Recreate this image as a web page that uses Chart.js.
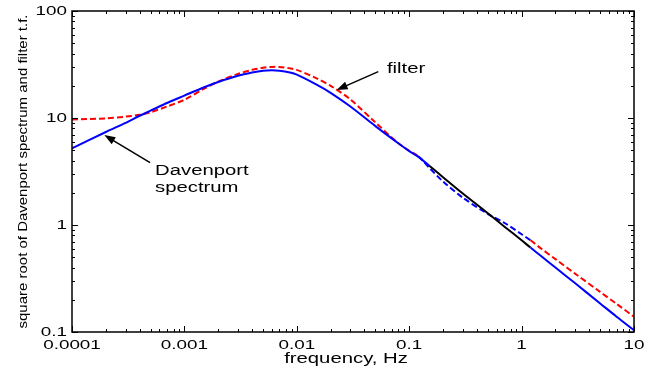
<!DOCTYPE html>
<html>
<head>
<meta charset="utf-8">
<script src="https://cdn.jsdelivr.net/npm/chart.js@4.4.1/dist/chart.umd.min.js"></script>
<style>
  html, body { margin: 0; padding: 0; background: #fff; }
  #wrap { width: 662px; height: 372px; }
</style>
</head>
<body>
<div id="wrap"><canvas id="psd" width="662" height="372"></canvas></div>
<script>
// frequencies (Hz)
const freq = [0.0001, 0.0002, 0.0003, 0.0004, 0.0005, 0.0007, 0.001, 0.0015, 0.002, 0.003,
  0.004, 0.005, 0.006, 0.007, 0.0087, 0.01, 0.015, 0.02, 0.03, 0.05,
  0.08, 0.1, 0.12, 0.15, 0.2, 0.3, 0.5, 0.7, 1, 1.2,
  1.5, 2, 3, 5, 7, 10];

// square root of Davenport spectrum
const davenport = [5.2, 7.4, 9.0, 10.5, 11.7, 13.8, 16.2, 19.4, 21.7, 24.8,
  26.6, 27.7, 28.0, 27.7, 26.6, 25.4, 20.5, 17.2, 12.8, 8.4,
  5.8, 4.9, 4.35, 3.6, 2.8, 1.97, 1.29, 0.97, 0.72, 0.615,
  0.51, 0.40, 0.285, 0.185, 0.139, 0.104];

// filter transfer function
const filterTf = [9.7, 9.9, 10.3, 10.7, 11.3, 12.8, 14.8, 18.8, 21.9, 25.8,
  28.2, 29.5, 30.0, 30.0, 29.1, 28.2, 23.5, 20.0, 14.9, 9.1,
  5.8, 4.95, 4.4, 3.45, 2.55, 1.8, 1.27, 1.05, 0.82, 0.72,
  0.6, 0.48, 0.35, 0.237, 0.183, 0.139];

const xTickValues = [0.0001, 0.001, 0.01, 0.1, 1, 10];
const xTickLabels = ['0.0001', '0.001', '0.01', '0.1', '1', '10'];
const yTickValues = [0.1, 1, 10, 100];
const yTickLabels = ['0.1', '1', '10', '100'];

const xTitle = 'frequency, Hz';
const yTitle = 'square root of Davenport spectrum and filter t.f.';

// annotations: text anchor and arrow tail/tip, in data units
const filterNote = { text: ['filter'], at: [0.0634, 28.7], tail: [0.0531, 27.1], tip: [0.0226, 18.3] };
const davNote = { text: ['Davenport', 'spectrum'], at: [0.000548, 3.2], tail: [0.000495, 3.82], tip: [0.000194, 6.93] };

// range over which the plotted lines switch colour in the original
const bandDav = [0.15, 1.2];
const bandFilter = [0.12, 1.2];

const FONT = "'Liberation Sans', Arial, sans-serif";
const SX = 1.45; // text in the picture is stretched sideways

function toPoints(ys) {
  return freq.map((f, i) => ({ x: f, y: ys[i] }));
}
function inBand(v, band) {
  return v >= band[0] && v < band[1];
}

function wideText(ctx, text, x, y, align) {
  ctx.save();
  ctx.translate(x, y);
  ctx.scale(SX, 1);
  ctx.textAlign = align;
  ctx.fillText(text, 0, 0);
  ctx.restore();
}

function arrow(ctx, x1, y1, x2, y2) {
  const a = Math.atan2(y2 - y1, x2 - x1);
  const len = 11, half = 4;
  ctx.beginPath();
  ctx.moveTo(x1, y1);
  ctx.lineTo(x2 - Math.cos(a) * len * 0.7, y2 - Math.sin(a) * len * 0.7);
  ctx.stroke();
  ctx.beginPath();
  ctx.moveTo(x2, y2);
  ctx.lineTo(x2 - Math.cos(a) * len - Math.sin(a) * half, y2 - Math.sin(a) * len + Math.cos(a) * half);
  ctx.lineTo(x2 - Math.cos(a) * len + Math.sin(a) * half, y2 - Math.sin(a) * len - Math.cos(a) * half);
  ctx.closePath();
  ctx.fill();
}

// frame, inward ticks, labels and notes
const framePlugin = {
  id: 'frame',
  afterDraw(chart) {
    const { ctx, chartArea, scales } = chart;
    const { left, right, top, bottom } = chartArea;
    const xs = scales.x, ys = scales.y;
    ctx.save();
    ctx.strokeStyle = '#000';
    ctx.fillStyle = '#000';
    ctx.lineWidth = 1.5;
    ctx.strokeRect(left, top, right - left, bottom - top);

    ctx.lineWidth = 1;
    ctx.beginPath();
    for (let e = -4; e <= 1; e++) {
      for (let k = 1; k <= 9; k++) {
        const v = k * Math.pow(10, e);
        if (v < 0.0001 || v > 10) continue;
        const px = Math.round(xs.getPixelForValue(v)) + 0.5;
        const len = k === 1 ? 6 : 3;
        ctx.moveTo(px, bottom); ctx.lineTo(px, bottom - len);
        ctx.moveTo(px, top); ctx.lineTo(px, top + len);
      }
    }
    for (let e = -1; e <= 2; e++) {
      for (let k = 1; k <= 9; k++) {
        const v = k * Math.pow(10, e);
        if (v < 0.1 || v > 100) continue;
        const py = Math.round(ys.getPixelForValue(v)) + 0.5;
        const len = k === 1 ? 6 : 3;
        ctx.moveTo(left, py); ctx.lineTo(left + len, py);
        ctx.moveTo(right, py); ctx.lineTo(right - len, py);
      }
    }
    ctx.stroke();

    ctx.font = '13px ' + FONT;
    ctx.textBaseline = 'middle';
    xTickValues.forEach((v, i) => {
      wideText(ctx, xTickLabels[i], xs.getPixelForValue(v), bottom + 13, 'center');
    });
    yTickValues.forEach((v, i) => {
      wideText(ctx, yTickLabels[i], left - 5, ys.getPixelForValue(v), 'right');
    });

    ctx.font = '14px ' + FONT;
    wideText(ctx, xTitle, (left + right) / 2 - 7, bottom + 27, 'center');

    // y title, rotated
    ctx.save();
    ctx.font = '13px ' + FONT;
    const w = ctx.measureText(yTitle).width;
    ctx.translate(23, (top + bottom) / 2);
    ctx.rotate(-Math.PI / 2);
    ctx.scale(314 / w, 1);
    ctx.textAlign = 'center';
    ctx.fillText(yTitle, 0, 0);
    ctx.restore();

    // notes
    ctx.font = '14px ' + FONT;
    ctx.lineWidth = 1.5;
    [filterNote, davNote].forEach(n => {
      const tx = xs.getPixelForValue(n.at[0]);
      const ty = ys.getPixelForValue(n.at[1]);
      n.text.forEach((t, j) => wideText(ctx, t, tx, ty + j * 17.5, 'left'));
      arrow(ctx,
        xs.getPixelForValue(n.tail[0]), ys.getPixelForValue(n.tail[1]),
        xs.getPixelForValue(n.tip[0]), ys.getPixelForValue(n.tip[1]));
    });
    ctx.restore();
  }
};

const ctx = document.getElementById('psd').getContext('2d');
new Chart(ctx, {
  type: 'line',
  data: {
    datasets: [{
      label: 'Davenport spectrum',
      data: toPoints(davenport),
      borderColor: '#0000ff',
      borderWidth: 2,
      pointRadius: 0,
      tension: 0.3,
      segment: {
        borderColor: c => inBand(c.p0.parsed.x, bandDav) ? '#000000' : '#0000ff'
      }
    }, {
      label: 'filter',
      data: toPoints(filterTf),
      borderColor: '#ff0000',
      borderWidth: 2,
      borderDash: [6, 3],
      pointRadius: 0,
      tension: 0.3,
      segment: {
        borderColor: c => inBand(c.p0.parsed.x, bandFilter) ? '#0000ff' : '#ff0000'
      }
    }]
  },
  options: {
    responsive: false,
    animation: false,
    devicePixelRatio: 1,
    layout: { padding: { top: 11, right: 28, left: 0, bottom: 0 } },
    plugins: { legend: { display: false }, tooltip: { enabled: false } },
    scales: {
      x: {
        type: 'logarithmic',
        min: 0.0001,
        max: 10,
        grid: { display: false },
        border: { display: false },
        ticks: { display: false },
        afterFit: s => { s.height = 40; }
      },
      y: {
        type: 'logarithmic',
        min: 0.1,
        max: 100,
        grid: { display: false },
        border: { display: false },
        ticks: { display: false },
        afterFit: s => { s.width = 72; }
      }
    }
  },
  plugins: [framePlugin]
});
</script>
</body>
</html>
